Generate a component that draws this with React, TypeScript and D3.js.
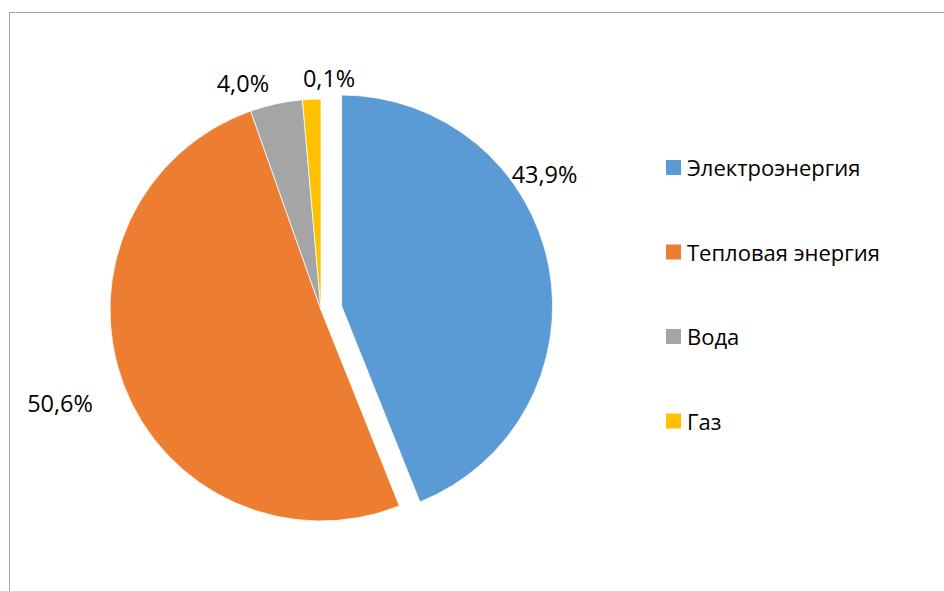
import React from "react";
import * as d3 from "d3";

const categories = ["Электроэнергия", "Тепловая энергия", "Вода", "Газ"];
const values = [43.9, 50.6, 4.0, 1.4];
const valueLabels = ["43,9%", "50,6%", "4,0%", "0,1%"];
const colors = ["#5B9BD5", "#ED7D31", "#A5A5A5", "#FFC000"];

// label placement (polar, relative to slice centre): angle in degrees, radius in px
const labelLayout = [
  { angle: 57, radius: 242 },
  { angle: 250.4, radius: 277 },
  { angle: 341, radius: 240 },
  { angle: 2, radius: 232 },
];
const exploded = [true, false, false, false];

const W = 944;
const H = 591;
const FONT = "'Open Sans', 'Noto Sans', sans-serif";

export default function App() {
  const cx = 321;
  const cy = 310;
  const r = 211;
  const explodeDist = 21;

  const pie = d3
    .pie<number>()
    .sort(null)
    .value((d) => d)
    .startAngle(0)
    .endAngle(2 * Math.PI);
  const arcs = pie(values);
  const arcGen = d3.arc<d3.PieArcDatum<number>>().innerRadius(0).outerRadius(r);

  const legendX = 666;
  const legendY0 = 160;
  const legendStep = 84.5;
  const sq = 15;

  return (
    <div style={{ position: "absolute", left: 0, top: 0 }}>
      <svg width={W} height={H} style={{ display: "block" }}>
        <rect x={0} y={0} width={W} height={H} fill="#fff" />
        <rect x={9.5} y={12.5} width={W + 10} height={H + 10} fill="none" stroke="#a6a6a6" strokeWidth={1} />
        <g transform={`translate(${cx},${cy})`}>
          {arcs.map((a, i) => {
            const mid = (a.startAngle + a.endAngle) / 2;
            const dx = exploded[i] ? Math.sin(mid) * explodeDist : 0;
            const dy = exploded[i] ? -Math.cos(mid) * explodeDist : 0;
            return (
              <path
                key={i}
                d={arcGen(a) || ""}
                transform={`translate(${dx},${dy})`}
                fill={colors[i]}
                stroke="#fff"
                strokeWidth={0.75}
              />
            );
          })}
          {arcs.map((a, i) => {
            const mid = (a.startAngle + a.endAngle) / 2;
            const dx = exploded[i] ? Math.sin(mid) * explodeDist : 0;
            const dy = exploded[i] ? -Math.cos(mid) * explodeDist : 0;
            const L = labelLayout[i];
            const ang = (L.angle * Math.PI) / 180;
            const x = dx + Math.sin(ang) * L.radius;
            const y = dy - Math.cos(ang) * L.radius;
            return (
              <text
                key={i}
                x={x}
                y={y}
                textAnchor="middle"
                dominantBaseline="central"
                fontFamily={FONT}
                fontSize={23.5}
                fill="#000"
              >
                {valueLabels[i]}
              </text>
            );
          })}
        </g>
        <g>
          {categories.map((c, i) => (
            <g key={c} transform={`translate(${legendX},${legendY0 + i * legendStep})`}>
              <rect x={0} y={0} width={sq} height={sq} fill={colors[i]} />
              <text x={21} y={sq + 1} fontFamily={FONT} fontSize={22} fill="#000">
                {c}
              </text>
            </g>
          ))}
        </g>
      </svg>
    </div>
  );
}
